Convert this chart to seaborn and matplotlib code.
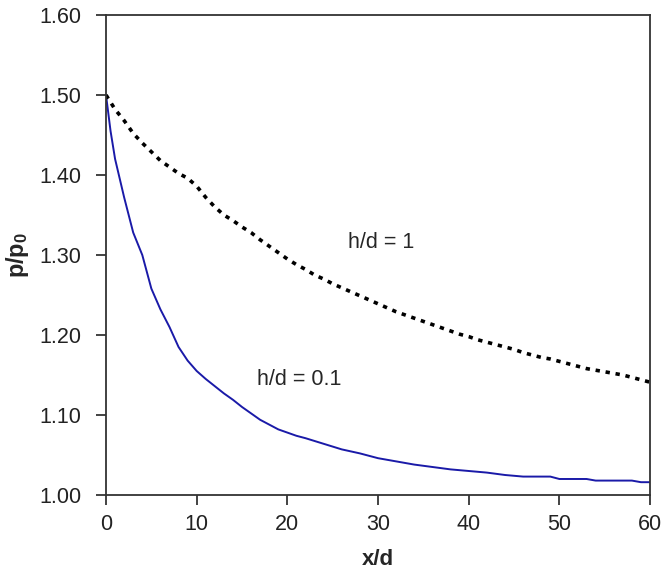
import numpy as np
import pandas as pd
import matplotlib
matplotlib.use("Agg")
import matplotlib.pyplot as plt
import seaborn as sns

# h/d = 0.1 (solid blue)
x_thin = [0, 0.5, 1, 2, 3, 4, 5, 6, 7, 8, 9, 10, 11, 12, 13, 14, 15, 16, 17, 18, 19, 20,
          21, 22, 24, 26, 28, 30, 32, 34, 36, 38, 40, 42, 44, 46, 49, 50, 53, 54, 58, 59, 60]
p_thin = [1.500, 1.455, 1.420, 1.372, 1.328, 1.300, 1.258, 1.232, 1.210, 1.185, 1.168, 1.155,
          1.145, 1.136, 1.127, 1.119, 1.110, 1.102, 1.094, 1.088, 1.082, 1.078, 1.074, 1.071,
          1.064, 1.057, 1.052, 1.046, 1.042, 1.038, 1.035, 1.032, 1.030, 1.028, 1.025, 1.023,
          1.023, 1.020, 1.020, 1.018, 1.018, 1.016, 1.016]

# h/d = 1 (dotted black)
x_thick = list(range(0, 61))
p_thick = [1.500, 1.482, 1.468, 1.452, 1.440, 1.429, 1.418, 1.410, 1.402, 1.396, 1.386,
           1.372, 1.360, 1.350, 1.343, 1.335, 1.328, 1.319, 1.311, 1.303, 1.295, 1.288,
           1.282, 1.275, 1.270, 1.264, 1.259, 1.254, 1.249, 1.244, 1.239, 1.234, 1.229,
           1.225, 1.221, 1.217, 1.213, 1.209, 1.205, 1.201, 1.198, 1.194, 1.191, 1.188,
           1.185, 1.182, 1.178, 1.175, 1.172, 1.170, 1.167, 1.164, 1.161, 1.158, 1.156,
           1.154, 1.152, 1.150, 1.147, 1.144, 1.141]

x_ticks = [0, 10, 20, 30, 40, 50, 60]
y_ticks = [1.00, 1.10, 1.20, 1.30, 1.40, 1.50, 1.60]

sns.set_style("ticks")
plt.rcParams['font.family'] = ['Liberation Sans', 'DejaVu Sans']
plt.rcParams['mathtext.fontset'] = 'custom'
plt.rcParams['mathtext.rm'] = 'Liberation Sans'
plt.rcParams['mathtext.bf'] = 'Liberation Sans:bold'

fig = plt.figure(figsize=(6.68, 5.79), dpi=100)
ax = fig.add_axes([0.1587, 0.1451, 0.8144, 0.829])

sns.lineplot(x=x_thin, y=p_thin, ax=ax, color="#1a1aa8", linewidth=1.4)
sns.lineplot(x=x_thick, y=p_thick, ax=ax, color="black", linewidth=2.6,
             linestyle=(0, (1.2, 1.6)))

ax.set_xlim(0, 60)
ax.set_ylim(1.0, 1.6)
ax.set_xticks(x_ticks)
ax.set_yticks(y_ticks)
ax.set_xticklabels([str(v) for v in x_ticks], fontsize=15.5)
ax.set_yticklabels(["%.2f" % v for v in y_ticks], fontsize=15.5)
ax.tick_params(axis='both', direction='out', length=7, width=1.2, colors='#222222')
ax.tick_params(axis='y', pad=11)
ax.tick_params(axis='x', pad=7)
for s in ax.spines.values():
    s.set_visible(True)
    s.set_linewidth(1.3)
    s.set_color('#333333')

ax.set_xlabel("x/d", fontsize=16, fontweight='bold', labelpad=10)
ax.set_ylabel(r"$\mathbf{p/p_0}$", fontsize=17, labelpad=6)

ax.text(30.3, 1.316, "h/d = 1", fontsize=15.5, ha='center', va='center')
ax.text(21.3, 1.144, "h/d = 0.1", fontsize=15.5, ha='center', va='center')

fig.savefig("out.png", dpi=100)
